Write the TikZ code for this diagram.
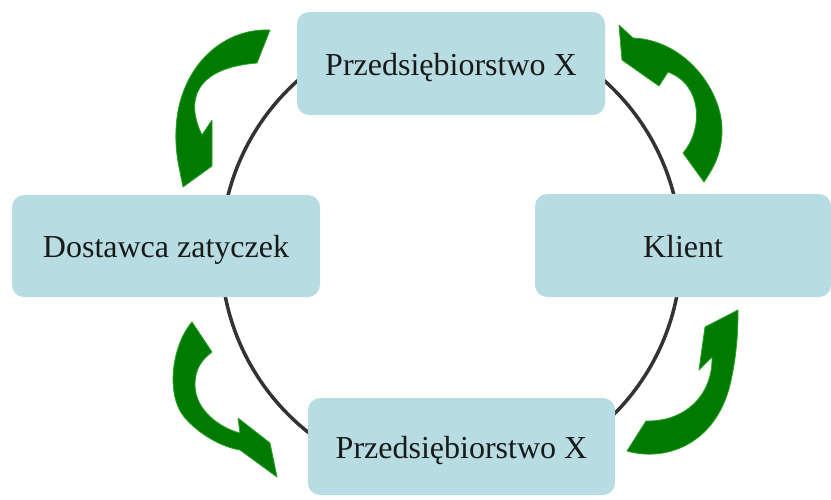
\documentclass[tikz,border=0pt]{standalone}
\usepackage{fontspec}
\setmainfont{Liberation Serif}
\definecolor{boxfill}{RGB}{183,221,226}
\definecolor{ringcol}{RGB}{51,51,51}
\definecolor{arrowgreen}{RGB}{0,122,0}
\definecolor{arrowedge}{RGB}{40,160,40}
\begin{document}
\begin{tikzpicture}[x=1pt,y=-1pt,
  box/.style={fill=boxfill, rounded corners=12pt, inner sep=0pt,
    font=\fontsize{32}{38}\selectfont, text height=28pt, text depth=5pt,
    align=center, text=black!90},
  ring/.style={draw=ringcol, line width=3.5pt},
  greenarrow/.style={fill=arrowgreen, draw=arrowedge, line width=0.8pt, line join=round}]
\useasboundingbox (0,0) rectangle (831,499);
% ring
\coordinate (ringc) at (451,252);
\draw[ring] (ringc) circle[radius=230pt];
% boxes
\node[box, minimum width=308pt, minimum height=103pt] (top) at (451,63.5) {Przedsiębiorstwo X};
\node[box, minimum width=308pt, minimum height=102pt] (left) at (166,246) {Dostawca zatyczek};
\node[box, minimum width=296pt, minimum height=103pt] (right) at (683,245.5) {Klient};
\node[box, minimum width=307pt, minimum height=97pt] (bottom) at (461.5,446.5) {Przedsiębiorstwo X};
% top-left arrow
\draw[greenarrow] (270,30) .. controls (220,28) and (178,70) .. (176,130)
  .. controls (175,155) and (180,170) .. (183,187)
  -- (212,166) -- (212,120) -- (202,135)
  .. controls (185,100) and (195,68) .. (257,63) -- cycle;
% bottom-left arrow
\draw[greenarrow] (192,322) .. controls (172,345) and (165,395) .. (185,418)
  .. controls (200,435) and (222,447) .. (240,450)
  -- (277,477) -- (270,443) -- (238,418) -- (240,433)
  .. controls (220,428) and (195,410) .. (195,385)
  .. controls (195,368) and (202,360) .. (212,352) -- cycle;
% bottom-right arrow
\draw[greenarrow] (627,451) .. controls (665,462) and (715,445) .. (730,385)
  .. controls (737,355) and (738,330) .. (738,310)
  -- (705,327) -- (699,370) -- (712,357)
  .. controls (713,395) and (685,422) .. (646,421) -- cycle;
% top-right arrow
\draw[greenarrow] (619,25) -- (633,38)
  .. controls (685,40) and (722,90) .. (722,130)
  .. controls (722,155) and (712,170) .. (704,182)
  -- (683,153)
  .. controls (703,130) and (703,85) .. (668,72)
  -- (659,86) -- (622,60) -- cycle;
\end{tikzpicture}
\end{document}
